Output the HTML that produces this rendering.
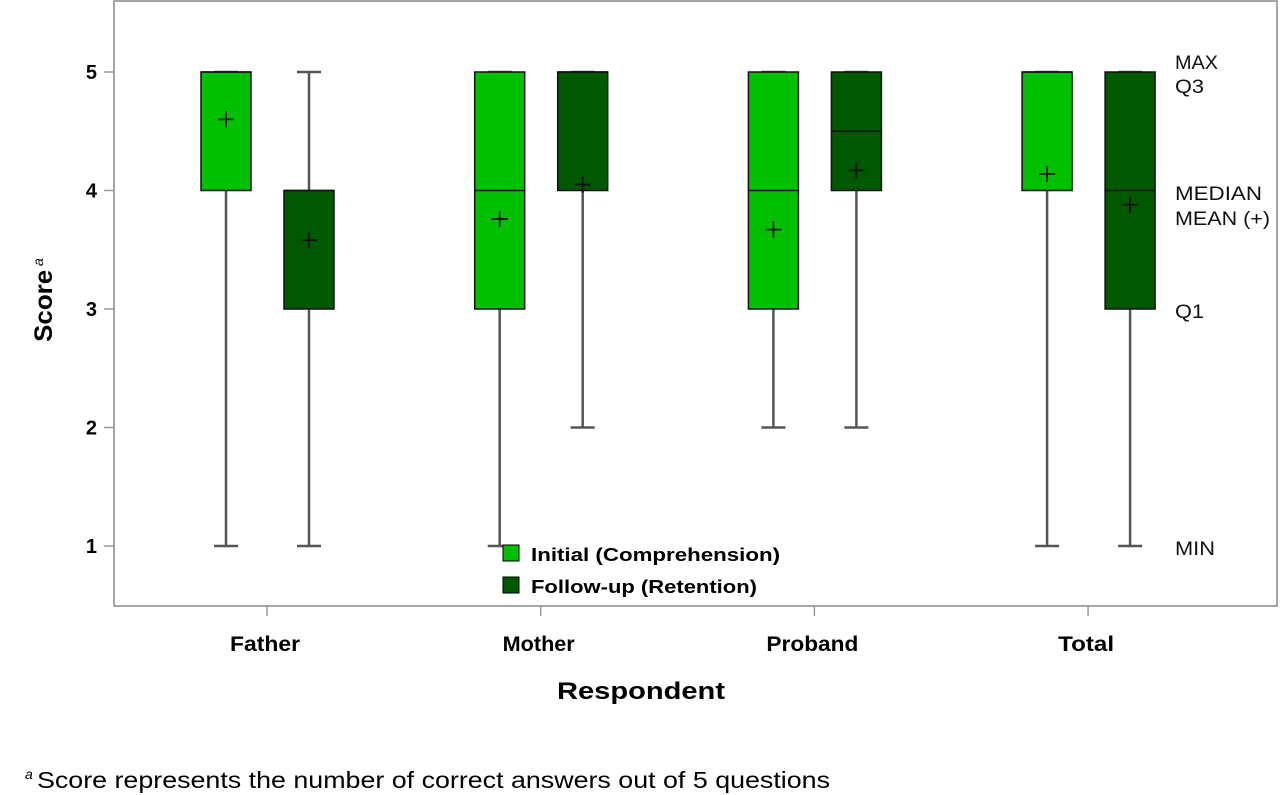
<!DOCTYPE html>
<html><head><meta charset="utf-8"><style>
body{margin:0;background:#fff;width:1280px;height:795px;overflow:hidden}
svg{display:block;font-family:"Liberation Sans",Arial,sans-serif}
</style></head><body>
<svg id="chart" width="1280" height="795">
<rect x="114" y="1" width="1163" height="605" fill="#fff" stroke="#888" stroke-width="1.5"/>
<g id="marks"></g>
<text x="0" y="0" transform="translate(52,300) rotate(-90)" text-anchor="middle" font-weight="bold" font-size="25"><tspan textLength="72" lengthAdjust="spacingAndGlyphs">Score</tspan><tspan font-size="14" font-weight="normal" dy="-9" font-style="italic"> a</tspan></text>
<text x="641" y="699" text-anchor="middle" font-weight="bold" font-size="24" textLength="168" lengthAdjust="spacingAndGlyphs">Respondent</text>
<g>
<rect x="503" y="545" width="16" height="16" fill="#00c000" stroke="#000"/>
<text x="531" y="561" font-weight="bold" font-size="18" textLength="249" lengthAdjust="spacingAndGlyphs">Initial (Comprehension)</text>
<rect x="503" y="577" width="16" height="16" fill="#005800" stroke="#000"/>
<text x="531" y="593" font-weight="bold" font-size="18" textLength="226" lengthAdjust="spacingAndGlyphs">Follow-up (Retention)</text>
</g>
<g font-size="19" fill="#111">
<text x="1175" y="69" textLength="43" lengthAdjust="spacingAndGlyphs">MAX</text>
<text x="1175" y="93" textLength="29" lengthAdjust="spacingAndGlyphs">Q3</text>
<text x="1175" y="200" textLength="87" lengthAdjust="spacingAndGlyphs">MEDIAN</text>
<text x="1175" y="225" textLength="95" lengthAdjust="spacingAndGlyphs">MEAN (+)</text>
<text x="1175" y="318" textLength="29" lengthAdjust="spacingAndGlyphs">Q1</text>
<text x="1175" y="555" textLength="40" lengthAdjust="spacingAndGlyphs">MIN</text>
</g>
<text x="25" y="788" font-size="23"><tspan font-size="14" font-style="italic" dy="-9">a</tspan><tspan x="37" dy="9" textLength="793" lengthAdjust="spacingAndGlyphs">Score represents the number of correct answers out of 5 questions</tspan></text>
</svg>
<script>
const categories=["Father","Mother","Proband","Total"];
const yTicks=[1,2,3,4,5];
const initMin=[1,1,2,1], initQ1=[4,3,3,4], initMed=[5,4,4,5], initQ3=[5,5,5,5], initMax=[5,5,5,5], initMean=[4.6,3.76,3.67,4.14];
const fuMin=[1,2,2,1], fuQ1=[3,4,4,3], fuMed=[4,5,4.5,4], fuQ3=[4,5,5,5], fuMax=[5,5,5,5], fuMean=[3.58,4.05,4.17,3.88];
const catWidths=[70,72,92,56];
const NS="http://www.w3.org/2000/svg";
const y=v=>546-(v-1)*118.5;
const x=i=>267+i*273.7;
const g=document.getElementById('marks');
function mk(t,a){const e=document.createElementNS(NS,t);for(const k in a)e.setAttribute(k,a[k]);g.appendChild(e);return e;}
yTicks.forEach(v=>{
 const l=mk('line',{x1:104,x2:114,y1:y(v),y2:y(v),stroke:'#999','stroke-width':1.5});
 
 
 const t=mk('text',{x:97,y:y(v)+7,'text-anchor':'end','font-weight':'bold','font-size':20});
 t.textContent=v;
 
 
});
categories.forEach((c,i)=>{
 const l=mk('line',{x1:x(i),x2:x(i),y1:606,y2:616,stroke:'#999','stroke-width':1.5});
 
 
 const t=mk('text',{x:x(i)-2,y:651,'text-anchor':'middle','font-weight':'bold','font-size':21,textLength:catWidths[i],lengthAdjust:'spacingAndGlyphs'});
 t.textContent=c;
 
 
});
function box(cx,mn,q1,md,q3,mx,mean,fill,name){
 const w=50;
 const wh=mk('line',{x1:cx,x2:cx,y1:y(mx),y2:y(mn),stroke:'#555','stroke-width':2.5});
 
 
 [mn,mx].forEach(v=>{const c=mk('line',{x1:cx-12,x2:cx+12,y1:y(v),y2:y(v),stroke:'#555','stroke-width':2.5});
  
  });
 const r=mk('rect',{x:cx-w/2,y:y(q3),width:w,height:y(q1)-y(q3),fill:fill,stroke:'#111','stroke-width':1.5});
 
 
 const m=mk('line',{x1:cx-w/2,x2:cx+w/2,y1:y(md),y2:y(md),stroke:'#111','stroke-width':1.5});
 
 
 const p=mk('path',{d:`M${cx-8},${y(mean)}h16M${cx},${y(mean)-8}v16`,stroke:'#111','stroke-width':1.8});
 
 
}
categories.forEach((c,i)=>{
 box(x(i)-41,initMin[i],initQ1[i],initMed[i],initQ3[i],initMax[i],initMean[i],'#00c000',c.toLowerCase()+'-initial');
 box(x(i)+42,fuMin[i],fuQ1[i],fuMed[i],fuQ3[i],fuMax[i],fuMean[i],'#005800',c.toLowerCase()+'-followup');
});
</script>
</body></html>
